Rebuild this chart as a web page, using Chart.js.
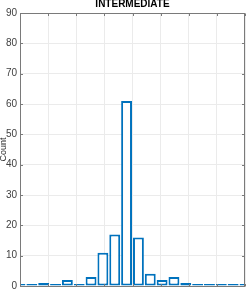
<!DOCTYPE html>
<html>
<head>
<meta charset="utf-8">
<script src="https://cdn.jsdelivr.net/npm/chart.js@4"></script>
<style>
  html, body { margin: 0; padding: 0; background: #fff; }
  #wrap { width: 246px; height: 294px; }
</style>
</head>
<body>
<div id="wrap"><canvas id="hist" width="246" height="294"></canvas></div>
<script>
// ── Data ──
const binIndex = [0, 1, 2, 3, 4, 5, 6, 7, 8, 9, 10, 11, 12, 13, 14, 15, 16, 17, 18, 19];
const counts   = [0, 0, 1, 0, 2, 0, 3, 11, 17, 61, 16, 4, 2, 3, 1, 0, 0, 0, 0, 0];
const yMin = 0, yMax = 90, yStep = 10;
const xMin = 0, xMax = 19, xStep = 2.375;
const TITLE = "INTERMEDIATE";
const Y_LABEL = "Count";

const EDGE = "#0072BD";
const AXIS = "#7a7a7a";
const GRID = "#ebebeb";
const FONT = '"Liberation Sans Narrow", "Liberation Sans", Arial, sans-serif';

// box, inward ticks and title (matlab style)
const boxPlugin = {
  id: "box",
  afterDraw(chart) {
    const { ctx, chartArea: a, scales } = chart;
    const L = Math.round(a.left) + 0.5, R = Math.round(a.right) - 0.5;
    const T = Math.round(a.top) + 0.5, B = Math.round(a.bottom) + 0.5;
    ctx.save();
    ctx.strokeStyle = AXIS;
    ctx.lineWidth = 1;
    ctx.strokeRect(L, T, R - L, B - T);

    ctx.beginPath();
    scales.y.ticks.forEach(t => {
      const py = Math.round(scales.y.getPixelForValue(t.value)) + 0.5;
      ctx.moveTo(L, py); ctx.lineTo(L + 2.5, py);
      ctx.moveTo(R, py); ctx.lineTo(R - 2.5, py);
    });
    scales.x.ticks.forEach(t => {
      const px = Math.round(scales.x.getPixelForValue(t.value)) + 0.5;
      ctx.moveTo(px, T); ctx.lineTo(px, T + 2.5);
      ctx.moveTo(px, B); ctx.lineTo(px, B - 2.5);
    });
    ctx.stroke();

    ctx.fillStyle = "#000";
    ctx.font = "bold 10px " + FONT;
    ctx.textAlign = "center";
    ctx.textBaseline = "middle";
    ctx.fillText(TITLE, (a.left + a.right) / 2, 4);
    ctx.restore();
  }
};

new Chart(document.getElementById("hist"), {
  type: "bar",
  data: {
    datasets: [{
      data: binIndex.map((b, i) => ({ x: b, y: counts[i] })),
      backgroundColor: "#ffffff",
      borderColor: EDGE,
      borderWidth: 2,
      borderSkipped: false,
      barPercentage: 0.92,
      categoryPercentage: 1,
      minBarLength: 2,
      clip: 0
    }]
  },
  plugins: [boxPlugin],
  options: {
    responsive: false,
    animation: false,
    layout: { padding: { left: 0, right: 1, top: 13, bottom: 6 } },
    plugins: { legend: { display: false }, tooltip: { enabled: false }, title: { display: false } },
    scales: {
      x: {
        type: "linear",
        min: xMin, max: xMax,
        offset: false,
        ticks: { display: false, stepSize: xStep },
        grid: { color: GRID, drawTicks: false, offset: false },
        border: { display: false },
        afterFit: s => { s.height = 0; }
      },
      y: {
        min: yMin, max: yMax,
        ticks: {
          stepSize: yStep,
          padding: 3,
          color: "#404040",
          font: { family: FONT, size: 10, lineHeight: 1 }
        },
        grid: { color: GRID, drawTicks: false },
        border: { display: false },
        title: {
          display: true,
          text: Y_LABEL,
          color: "#262626",
          padding: 0,
          font: { family: FONT, size: 9, lineHeight: 0.7 }
        },
        afterFit: s => { s.width = 20; }
      }
    }
  }
});
</script>
</body>
</html>
